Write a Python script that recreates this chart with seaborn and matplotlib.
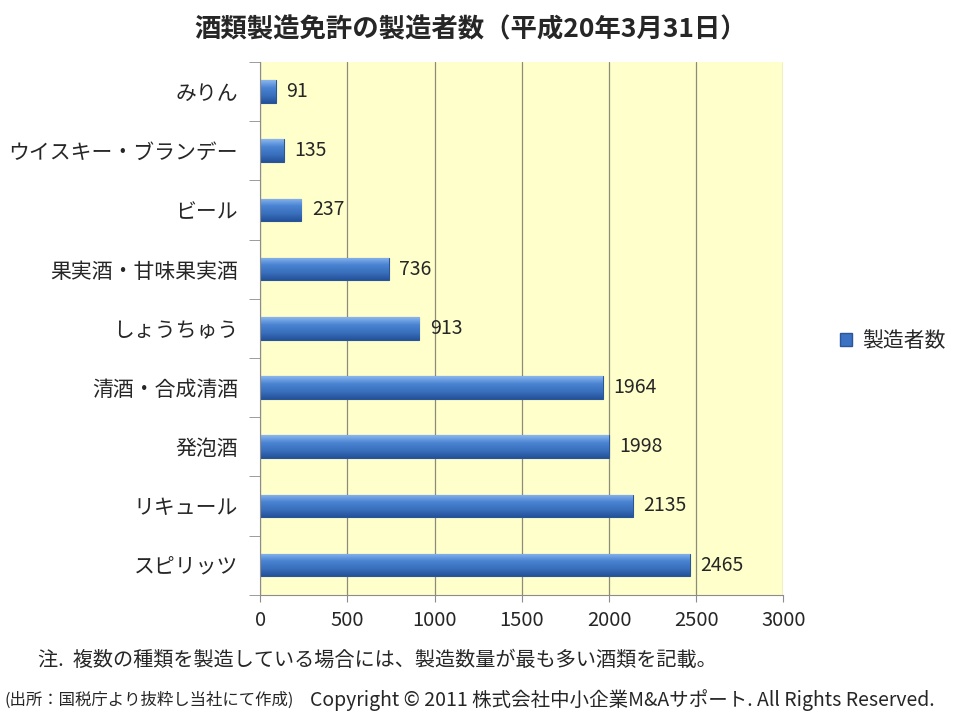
import numpy as np
import pandas as pd
import matplotlib.pyplot as plt
from matplotlib.patches import Patch
from matplotlib.colors import LinearSegmentedColormap
import seaborn as sns

# data
categories = ['みりん', 'ウイスキー・ブランデー', 'ビール', '果実酒・甘味果実酒', 'しょうちゅう',
              '清酒・合成清酒', '発泡酒', 'リキュール', 'スピリッツ']
counts = [91, 135, 237, 736, 913, 1964, 1998, 2135, 2465]
series_name = '製造者数'

sns.set_style('white')
plt.rcParams['font.family'] = ['Noto Sans CJK JP', 'DejaVu Sans']

df = pd.DataFrame({'cat': categories, 'n': counts})

fig = plt.figure(figsize=(9.6, 7.2), dpi=100)
ax = fig.add_axes([0.271, 0.174, 0.545, 0.74])
ax.set_facecolor('#FFFFCC')

sns.barplot(data=df, y='cat', x='n', orient='h', color='#3C72C4', width=0.38,
            edgecolor='#2A5597', linewidth=0.8, saturation=1, ax=ax)

# shaded look for the bars
shade = LinearSegmentedColormap.from_list('shade', ['#8AB6EE', '#4A84D2', '#3A70BE', '#24529A'])
grad = np.linspace(0, 1, 64).reshape(-1, 1)
for p in ax.patches:
    x0, y0, w, h = p.get_x(), p.get_y(), p.get_width(), p.get_height()
    im = ax.imshow(grad, cmap=shade, aspect='auto', extent=(x0, x0 + w, y0 + h, y0),
                   origin='upper', zorder=p.get_zorder() + 0.1)
    im.set_clip_path(p)

# data labels
for p, v in zip(ax.patches, counts):
    ax.text(p.get_width() + 60, p.get_y() + p.get_height() / 2, str(v),
            va='center', ha='left', fontsize=14)

ax.set_xlim(0, 3000)
ax.set_ylim(8.5, -0.5)
ax.set_xticks(np.arange(0, 3001, 500))
ax.xaxis.grid(True, color='#8C8C7A', linewidth=0.9)
ax.set_axisbelow(True)
ax.tick_params(axis='x', bottom=True, labelsize=14.5, length=5, color='#8C8C8C', direction='out', pad=6)
ax.tick_params(axis='y', which='major', left=True, length=0, labelsize=15, pad=16)
ax.set_yticks(np.arange(-0.5, 9, 1), minor=True)
ax.tick_params(axis='y', which='minor', left=True, length=8, color='#8C8C8C', direction='out')
for s in ['top', 'right']:
    ax.spines[s].set_visible(False)
ax.spines['left'].set_color('#8C8C8C')
ax.spines['bottom'].set_color('#8C8C8C')
ax.set_xlabel('')
ax.set_ylabel('')

fig.legend(handles=[Patch(facecolor='#3C72C4', edgecolor='#2A5597', label=series_name)],
           loc='center left', bbox_to_anchor=(0.855, 0.527), frameon=False,
           fontsize=15, handlelength=0.6, handleheight=0.6, handletextpad=0.5)

fig.text(0.49, 0.958, '酒類製造免許の製造者数（平成20年3月31日）', ha='center', va='center',
         fontsize=19, fontweight='bold')
fig.text(0.04, 0.083, '注.  複数の種類を製造している場合には、製造数量が最も多い酒類を記載。',
         ha='left', va='center', fontsize=14.5)
fig.text(0.005, 0.028, '(出所：国税庁より抜粋し当社にて作成)', ha='left', va='center', fontsize=11.8)
fig.text(0.323, 0.028, 'Copyright © 2011 株式会社中小企業M&Aサポート. All Rights Reserved.',
         ha='left', va='center', fontsize=14)

fig.savefig('out.png', dpi=100, facecolor='white')
